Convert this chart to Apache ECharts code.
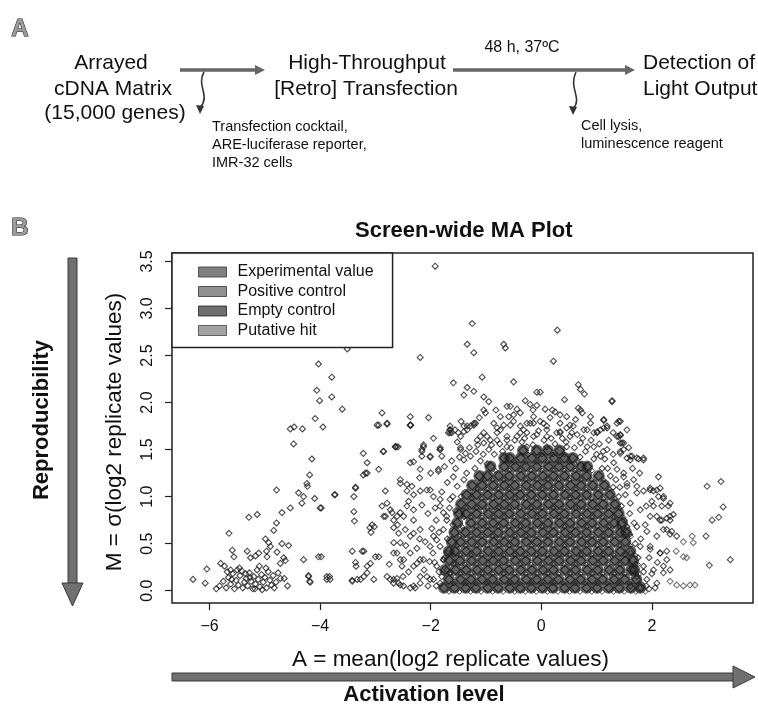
<!DOCTYPE html>
<html><head><meta charset="utf-8">
<script src="https://cdn.jsdelivr.net/npm/echarts@6/dist/echarts.min.js"></script>
<style>html,body{margin:0;padding:0;background:#fff}#c{width:758px;height:708px}</style>
</head><body><div id="c"></div><script>
const seriesNames = ['Experimental value','Positive control','Empty control','Putative hit'];
const xTicks = [-6,-4,-2,0,2];
const yTicks = [0,0.5,1,1.5,2,2.5,3,3.5];

const experimentalSparse = [
[-3.51,2.57],[-4.03,2.41],[-3.79,2.27],[-4.06,2.13],[-3.79,2.06],[-4.01,2.02],[-3.60,1.93],[-4.09,1.83],[-3.95,1.74],[-4.54,1.72],[-4.47,1.74],[-4.32,1.72],[-4.48,1.56],[-3.22,1.46],[-3.15,1.36],[-4.15,1.40],[-3.22,1.23],[-3.15,1.25],[-4.19,1.23],[-4.24,1.14],[-4.23,1.11],[-3.36,1.10],[-4.79,1.07],[-4.39,1.04],[-4.30,1.00],[-4.10,0.98],[-3.74,1.02],[-3.39,1.00],[-4.33,0.93],[-3.98,0.88],[-4.54,0.88],[-4.69,0.83],[-3.39,0.84],[-3.38,0.74],[-5.29,0.78],[-5.14,0.81],[-4.79,0.72],[-4.84,0.64],[-5.65,0.61],[-3.10,0.67],[-4.99,0.55],[-4.93,0.51],[-4.90,0.47],[-4.69,0.50],[-4.57,0.48],[-4.97,0.42],[-4.78,0.41],[-5.59,0.43],[-5.56,0.36],[-5.32,0.42],[-5.26,0.35],[-5.17,0.37],[-5.11,0.40],[-4.96,0.36],[-4.66,0.35],[-4.63,0.32],[-4.72,0.29],[-4.30,0.33],[-3.98,0.36],[-3.24,0.42],[-3.36,0.30],[-3.35,0.26],[-6.05,0.23],[-5.80,0.29],[-5.73,0.26],[-5.62,0.22],[-5.50,0.22],[-6.30,0.12],[-6.08,0.08],[-4.65,0.13],[-4.59,0.05],[-4.21,0.16],[-4.18,0.09],[-3.88,0.12],[-3.83,0.15],[-3.42,0.11],[-3.27,0.12],[-3.15,0.19],
[-2.97,1.76],[-2.79,1.77],[-2.36,1.76],[-2.86,1.48],[-2.62,1.53],[-2.37,1.36],[-2.16,1.50],[-2.16,1.43],[-2.01,1.42],[-1.83,1.50],[-1.86,1.29],[-3.18,1.25],[-2.94,1.29],[-2.55,1.18],[-2.43,1.13],[-2.34,1.11],[-2.82,1.06],[-2.19,1.06],[-2.01,1.07],[-3.36,1.09],[-3.73,1.02],[-4.00,0.88],[-3.06,0.70],[-3.02,0.68],[-3.08,0.62],[-2.88,0.90],[-2.73,0.86],[-2.70,0.83],[-2.82,0.79],[-2.61,0.79],[-2.49,0.79],[-2.31,0.86],[-2.16,0.91],[-2.67,0.67],[-2.58,0.61],[-2.46,0.65],[-2.31,0.61],[-3.42,0.42],[-3.21,0.42],[-3.09,0.29],[-3.15,0.26],[-3.00,0.36],[-2.94,0.36],[-3.21,0.15],[-3.03,0.12],[-2.73,0.12],[-2.61,0.13],[-2.67,0.51],[-2.61,0.40],[-2.55,0.33],[-2.52,0.26],[-2.37,0.40],[-2.25,0.29],[-2.19,0.33],[-2.49,0.05],[-2.37,0.03],[-2.28,0.03],[-2.67,0.08],[-2.58,0.08],[-2.19,0.15],[-2.01,0.12],[-1.95,0.58],[-1.83,0.47],[-1.77,0.33],[-1.71,0.22],[-1.83,0.97],[-1.77,0.83],[-1.71,0.75],[-4.03,0.36],[-4.21,0.15],[-4.19,0.10],[-3.88,0.15],[-3.82,0.12],[-3.42,0.10],[-3.33,0.12],
[-1.92,3.45],[-1.25,2.84],[0.29,2.77],[-1.34,2.62],[-1.22,2.53],[-0.68,2.62],[-0.65,2.58],[-2.19,2.48],[0.22,2.44],[-1.07,2.27],[-0.50,2.22],[-1.59,2.21],[-1.34,2.16],[-1.22,2.12],[-1.40,2.08],[-1.04,2.06],[-0.95,2.01],[-0.08,2.11],[-0.02,2.11],[0.67,2.19],[0.71,2.14],[0.78,2.09],[0.42,2.03],[1.28,2.02],[-0.29,2.02],[-0.20,1.98],[-0.08,1.97],[-0.62,1.96],[-0.44,1.93],[-0.50,1.87],[-0.59,1.85],[0.07,1.93],[0.25,1.90],[0.34,1.87],[0.67,1.94],[0.74,1.89],[0.89,1.85],[1.07,1.71],[1.19,1.75],[1.13,1.82],[1.40,1.80],[1.40,1.64],[1.43,1.57],[-2.88,1.89],[-2.94,1.76],[-2.79,1.78],[-2.37,1.85],[-2.37,1.76],[-2.04,1.84],[-1.19,1.78],[-1.28,1.75],[-1.40,1.69],[-1.50,1.68],[-1.65,1.71],[-1.68,1.68],[-1.04,1.92],[-1.01,1.89],[-2.64,1.53],[-2.13,1.55],[-1.83,1.52],[-1.46,1.52],
[1.28,2.01],[1.13,1.81],[1.43,1.80],[1.43,1.65],[1.46,1.57],[1.49,1.50],[1.55,1.41],[1.64,1.43],[1.76,1.40],[1.85,1.41],[2.12,1.21],[2.15,1.09],[1.97,1.07],[2.03,1.06],[2.12,1.00],[2.21,0.98],[2.30,0.90],[2.03,0.90],[2.18,0.90],[2.39,0.81],[2.27,0.77],[2.33,0.75],[2.09,0.79],[2.18,0.75],[2.27,0.65],[2.36,0.63],[2.45,0.58],[2.06,0.03],[1.97,0.47],[2.15,0.40],[2.27,0.33],[2.21,0.26],[2.33,0.22]
];

const experimentalRing = [
[-2.85,1.48],[-2.64,1.53],[-2.59,1.53],[-2.37,1.76],[-2.13,1.53],[-2.16,1.48],[-2.01,1.43],[-2.31,1.37],[-2.19,1.29],[-1.86,1.27],[-1.83,1.50],[-1.80,1.43],[-1.65,1.75],[-1.62,1.68],[-1.56,1.71],[-1.34,1.75],[-1.22,1.78],[-1.46,1.50],[-1.37,1.46],[-1.28,1.43],[-1.40,1.39],[-1.10,1.64],[-1.04,1.57],[-0.92,1.60],[-0.80,1.68],[-0.74,1.71],[-0.68,1.76],[-0.50,1.80],[-0.38,1.75],[-0.20,1.78],[-0.02,1.80],[-0.62,1.60],[-0.44,1.64],[-0.26,1.68],[-0.08,1.66],[0.10,1.71],[0.28,1.68],[0.46,1.73],[0.65,1.66],[0.83,1.71],[1.01,1.68],[1.19,1.73],[1.37,1.64],[1.55,1.71],[0.71,1.57],[0.95,1.53],[1.19,1.50],[1.43,1.46],[1.61,1.39],[1.31,1.36],[1.07,1.43],[1.49,1.25],[1.67,1.18],[1.55,1.11],[1.73,1.04],
[-2.79,0.93],[-2.85,0.79],[-2.67,0.75],[-2.55,0.83],[-2.43,0.90],[-2.31,0.75],[-2.19,0.65],[-2.37,0.58],[-2.55,0.51],[-2.67,0.40],[-2.49,0.33],[-2.31,0.26],[-2.13,0.33],[-2.01,0.47],[-1.89,0.54],[-1.77,0.65],[-1.71,0.79],[-1.83,0.90],[-1.95,1.00],[-2.07,1.07],[-1.65,0.97],[-1.52,1.11],[-1.40,1.18],[-1.59,1.21],[-2.55,1.14],[-2.43,1.06],[-2.31,1.02],[-2.07,0.15],[-1.95,0.12],[-1.83,0.08],[-2.19,0.08],[-2.31,0.05],[-2.55,0.06],[-2.67,0.12],[-2.79,0.15],[-1.89,0.26],[-1.77,0.33],[-1.71,0.40],[-1.65,0.19],[-1.59,0.29],
[1.43,1.66],[1.49,1.57],[1.43,1.48],[1.61,1.43],[1.73,1.41],[1.85,1.39],[1.37,1.29],[1.49,1.21],[1.55,1.14],[1.73,1.11],[1.85,1.06],[1.97,1.09],[2.09,1.07],[2.21,1.00],[2.33,0.93],[1.61,0.93],[1.79,0.86],[1.97,0.79],[2.15,0.75],[2.33,0.79],[1.73,0.68],[1.91,0.63],[2.09,0.58],[2.21,0.65],[2.33,0.60],[1.79,0.47],[1.97,0.44],[2.15,0.40],[2.27,0.42],[1.85,0.26],[2.03,0.22],[2.21,0.19],[1.73,0.15],[1.91,0.12],[2.09,0.08],[1.61,0.05],[1.79,0.03],
[-1.65,1.71],[-1.40,1.75],[-1.22,1.76],[-1.04,1.68],[-0.80,1.73],[-0.56,1.76],[-0.32,1.71],[-0.14,1.78],[0.10,1.75],[0.34,1.69],[0.52,1.76],[0.77,1.71],[0.95,1.68],[1.13,1.73],[1.37,1.78],
[-1.15,1.55],[-0.95,1.50],[-0.75,1.56],[-0.55,1.52],[-0.35,1.58],[-0.15,1.55],[0.05,1.60],[0.25,1.56],[0.45,1.58],[0.60,1.52],[0.80,1.48],[1.00,1.45],[1.15,1.40],[-1.10,1.38],[-1.20,1.30],[1.10,1.30],[1.25,1.22],[-1.35,1.25],[-0.85,1.45],[0.70,1.42],[1.30,1.10],[1.40,1.00],[-1.45,1.00],[-1.55,0.85],[1.45,0.90],[1.50,0.75],[-1.60,0.70],[1.60,0.60],[-1.70,0.55],[1.70,0.50],[-1.75,0.35],[1.75,0.35],[-1.85,0.20],[1.85,0.20],[-1.90,0.05],[1.90,0.05],
[-0.86,1.78],[-0.74,1.85],[-0.56,1.96],[-0.38,1.89],[-0.26,1.78],[-0.14,1.85],[0.04,1.78],[0.16,1.84],[0.34,1.78],[0.46,1.85],[0.58,1.75],[0.71,1.92],[0.89,1.78],[1.01,1.69],[0.34,1.68],[0.52,1.64],[0.10,1.64],[-0.14,1.64],[-0.38,1.68],[-0.62,1.64],[-0.80,1.60],[-0.98,1.64],[-1.16,1.60],[-1.34,1.71],[-1.46,1.64],[-1.65,1.68],[-0.62,1.53],[-0.26,1.53],[0.10,1.53],[0.46,1.53],[0.83,1.53],
[-2.05,0.05],[-2.12,0.22],[-2.02,0.31],[-1.96,0.40],[-2.10,0.52],[-1.98,0.66],[-1.90,0.75],[-1.85,0.62],[-1.80,0.15],[-1.93,0.30],[-2.25,0.45],[-2.40,0.20],[-2.45,0.48],[-2.20,0.55],[-2.05,0.82],[-1.92,0.88],[-1.80,1.05],[-1.70,1.15],[-1.66,0.88],[-1.60,1.00],[-1.75,1.32],[-1.62,1.38],[-1.55,1.30],[-1.48,1.42],[-1.30,1.52],[-1.18,1.48],[-1.05,1.45],[-0.98,1.35],[-0.90,1.55],[-0.70,1.48],[-0.48,1.60],[-0.30,1.62],[-0.05,1.70],[0.18,1.62],[0.38,1.62],[0.55,1.68],[0.75,1.62],[0.90,1.60],[1.05,1.56],[1.22,1.60],[1.30,1.45],[1.12,1.48],[0.95,1.40],[1.20,1.30],[1.35,1.18],[1.42,1.10],[1.52,1.02],[1.60,0.82],[1.68,0.72],[1.55,0.68],[1.62,0.40],[1.70,0.28],[1.80,0.55],[1.88,0.70],[1.95,0.35],[2.00,0.18],[1.95,0.02],[2.10,0.30],[2.00,0.95],[1.90,0.90],[1.78,1.25],[1.65,1.30],[1.58,1.52],[1.30,1.68],[0.62,1.82],[0.20,1.92],[-0.15,1.92],[-0.82,1.92],[-1.12,1.84],[-1.45,1.80],[-1.52,1.58],[-1.95,1.62],[-2.20,1.20],[-2.00,1.25],[-2.40,0.95],[-2.60,0.70],[-2.75,0.28],[-2.50,0.15]
];

// dense core: rows of marks (y level, x positions)
const coreRowY = [0.03,0.12,0.22,0.32,0.42,0.52,0.62,0.72,0.82,0.92,1.02,1.12,1.22,1.32,1.41,1.49];
const coreRowX = [
[-1.76,-1.57,-1.37,-1.18,-0.97,-0.78,-0.57,-0.38,-0.18,0.02,0.21,0.42,0.61,0.82,1.01,1.22,1.41,1.62,1.79],
[-1.67,-1.46,-1.27,-1.07,-0.88,-0.67,-0.48,-0.27,-0.08,0.12,0.31,0.52,0.71,0.92,1.11,1.32,1.51,1.72],
[-1.74,-1.55,-1.36,-1.16,-0.97,-0.77,-0.58,-0.37,-0.17,0.03,0.22,0.43,0.62,0.83,1.02,1.23,1.42,1.63,1.68],
[-1.66,-1.47,-1.26,-1.06,-0.87,-0.68,-0.47,-0.28,-0.07,0.13,0.32,0.53,0.72,0.93,1.12,1.33,1.52,1.66],
[-1.67,-1.56,-1.36,-1.17,-0.96,-0.77,-0.57,-0.38,-0.18,0.02,0.23,0.42,0.63,0.82,1.03,1.22,1.43,1.61],
[-1.62,-1.46,-1.26,-1.07,-0.86,-0.67,-0.48,-0.27,-0.08,0.12,0.33,0.52,0.73,0.92,1.12,1.33,1.52],
[-1.57,-1.37,-1.17,-0.97,-0.78,-0.57,-0.37,-0.18,0.03,0.22,0.43,0.62,0.82,1.03,1.22,1.43,1.53],
[-1.52,-1.27,-1.07,-0.87,-0.68,-0.47,-0.28,-0.07,0.12,0.33,0.52,0.73,0.92,1.13,1.32,1.46],
[-1.49,-1.36,-1.17,-0.96,-0.77,-0.58,-0.37,-0.17,0.02,0.23,0.42,0.63,0.83,1.02,1.22,1.40],
[-1.45,-1.26,-1.07,-0.86,-0.67,-0.48,-0.27,-0.08,0.13,0.32,0.53,0.72,0.93,1.12,1.33],
[-1.35,-1.17,-0.97,-0.77,-0.57,-0.38,-0.18,0.02,0.22,0.43,0.62,0.82,1.03,1.24],
[-1.25,-1.07,-0.87,-0.67,-0.48,-0.27,-0.07,0.12,0.32,0.53,0.72,0.93,1.14],
[-1.12,-0.97,-0.77,-0.58,-0.37,-0.17,0.03,0.22,0.42,0.63,0.82,1.04],
[-0.92,-0.67,-0.47,-0.28,-0.08,0.13,0.32,0.52,0.72,0.83],
[-0.67,-0.57,-0.37,-0.17,0.02,0.23,0.42,0.57],
[-0.33,-0.08,0.12,0.33]
];

const emptyControl = [
[-5.82,0.05],[-5.75,0.10],[-5.70,0.03],[-5.66,0.14],[-5.62,0.07],[-5.58,0.18],[-5.55,0.02],[-5.52,0.11],[-5.48,0.06],[-5.45,0.16],[-5.42,0.21],[-5.40,0.03],[-5.37,0.09],[-5.34,0.13],[-5.31,0.05],[-5.28,0.19],[-5.25,0.10],[-5.22,0.02],[-5.20,0.15],[-5.17,0.07],[-5.14,0.22],[-5.12,0.12],[-5.09,0.04],[-5.06,0.17],[-5.03,0.09],[-5.00,0.14],[-4.97,0.03],[-4.94,0.20],[-4.91,0.11],[-4.88,0.06],[-4.85,0.16],[-4.80,0.09],[-4.76,0.19],[-4.72,0.13],[-5.60,0.12],[-5.35,0.18],[-5.46,0.24],[-5.10,0.26],[-4.98,0.24],[-5.68,0.20],[-5.27,0.14],[-5.18,0.02],[-5.05,0.01],[-4.83,0.03],[-5.88,0.02]
];
const positiveControl = [[3.00,1.11],[3.25,1.16],[3.29,0.89],[3.09,0.75],[3.21,0.78],[2.98,0.58],[3.04,0.27],[3.42,0.33]];
const putativeHit = [[2.33,0.10],[2.45,0.06],[2.57,0.05],[2.69,0.06],[2.78,0.06],[2.44,0.42],[2.57,0.36],[2.63,0.35],[2.57,0.52],[2.75,0.51],[2.73,0.58]];

const coreData = [];
coreRowY.forEach((y, i) => coreRowX[i].forEach(x => coreData.push([x, y])));

const FONT = '"Liberation Sans", Arial, Helvetica, sans-serif';
const openDiamond = (c) => ({ color: 'rgba(0,0,0,0)', borderColor: c, borderWidth: 1.1 });

function txt(text, x, y, size, opts) {
  opts = opts || {};
  return { type: 'text', x: x, y: y, rotation: opts.rot || 0, z: 10,
    style: { text: text, font: (opts.bold ? 'bold ' : '') + size + 'px ' + FONT,
      fill: opts.fill || '#111', stroke: opts.stroke, lineWidth: opts.lw || 0,
      align: opts.align || 'center', verticalAlign: 'middle' } };
}
const arrowFill = '#707070', arrowStroke = '#3a3a3a';
const graphics = [
  txt('A', 20, 29, 24, {bold: true, fill: '#9a9a9a', stroke: '#222', lw: 1}),
  txt('Arrayed', 111, 63, 21), txt('cDNA Matrix', 113, 89, 21), txt('(15,000 genes)', 115, 113, 21),
  { type: 'line', shape: {x1: 180, y1: 70, x2: 257, y2: 70}, style: {stroke: '#666', lineWidth: 3.5} },
  { type: 'polygon', shape: {points: [[255, 65], [265, 70], [255, 75]]}, style: {fill: '#666'} },
  { type: 'bezierCurve', shape: {x1: 204, y1: 72, cpx1: 196, cpy1: 86, cpx2: 211, cpy2: 95, x2: 200, y2: 108}, style: {stroke: '#333', lineWidth: 1.6, fill: null} },
  { type: 'polygon', shape: {points: [[196, 105], [204, 106], [200, 114]]}, style: {fill: '#333'} },
  txt('High-Throughput', 367, 63, 21), txt('[Retro] Transfection', 366, 89, 21),
  txt('Transfection cocktail,', 212, 127, 14.5, {align: 'left'}),
  txt('ARE-luciferase reporter,', 212, 145, 14.5, {align: 'left'}),
  txt('IMR-32 cells', 212, 163, 14.5, {align: 'left'}),
  { type: 'line', shape: {x1: 453, y1: 70, x2: 627, y2: 70}, style: {stroke: '#666', lineWidth: 3.5} },
  { type: 'polygon', shape: {points: [[625, 65], [635, 70], [625, 75]]}, style: {fill: '#666'} },
  txt('48 h, 37\u00baC', 522, 48, 16),
  { type: 'bezierCurve', shape: {x1: 576, y1: 72, cpx1: 568, cpy1: 88, cpx2: 583, cpy2: 98, x2: 573, y2: 109}, style: {stroke: '#333', lineWidth: 1.6, fill: null} },
  { type: 'polygon', shape: {points: [[569, 106], [577, 107], [573, 115]]}, style: {fill: '#333'} },
  txt('Detection of', 643, 63, 21, {align: 'left'}), txt('Light Output', 643, 89, 21, {align: 'left'}),
  txt('Cell lysis,', 581, 126, 14.5, {align: 'left'}),
  txt('luminescence reagent', 581, 144, 14.5, {align: 'left'}),
  txt('B', 20, 228, 24, {bold: true, fill: '#9a9a9a', stroke: '#222', lw: 1}),
  txt('Reproducibility', 42, 420, 22, {bold: true, rot: Math.PI / 2}),
  { type: 'rect', shape: {x: 68, y: 258, width: 9, height: 326}, style: {fill: arrowFill, stroke: arrowStroke, lineWidth: 1} },
  { type: 'polygon', shape: {points: [[62, 583], [83, 583], [72.5, 606]]}, style: {fill: arrowFill, stroke: arrowStroke, lineWidth: 1} },
  { type: 'rect', shape: {x: 172, y: 673, width: 562, height: 8}, style: {fill: arrowFill, stroke: arrowStroke, lineWidth: 1} },
  { type: 'polygon', shape: {points: [[733, 666], [733, 688], [755, 677]]}, style: {fill: arrowFill, stroke: arrowStroke, lineWidth: 1} },
  txt('Activation level', 424, 695, 22, {bold: true})
];

const chart = echarts.init(document.getElementById('c'), null, {renderer: 'canvas'});
chart.setOption({
  animation: false,
  backgroundColor: '#fff',
  textStyle: {fontFamily: FONT},
  title: {text: 'Screen-wide MA Plot', left: 355, top: 220, padding: 0,
    textStyle: {fontSize: 22, fontWeight: 'bold', color: '#111', fontFamily: FONT}},
  grid: {left: 172, top: 253, width: 581, height: 350, show: true, borderColor: '#222', borderWidth: 1.5, backgroundColor: 'transparent'},
  legend: {
    orient: 'vertical', left: 172, top: 253, padding: [11, 19, 9, 26],
    itemWidth: 28, itemHeight: 10, itemGap: 3.5, selectedMode: false,
    borderColor: '#222', borderWidth: 1.5, backgroundColor: '#fff', z: 5,
    textStyle: {fontSize: 16, color: '#111', fontFamily: FONT, lineHeight: 16, padding: [0, 0, 0, 6]},
    data: [
      {name: seriesNames[0], icon: 'rect', itemStyle: {color: '#626262', borderColor: '#333', borderWidth: 1}},
      {name: seriesNames[1], icon: 'rect', itemStyle: {color: '#747474', borderColor: '#333', borderWidth: 1}},
      {name: seriesNames[2], icon: 'rect', itemStyle: {color: '#4a4a4a', borderColor: '#222', borderWidth: 1}},
      {name: seriesNames[3], icon: 'rect', itemStyle: {color: '#8c8c8c', borderColor: '#444', borderWidth: 1}}
    ]
  },
  xAxis: {
    type: 'value', min: -6.68, max: 3.83,
    name: 'A = mean(log2 replicate values)', nameLocation: 'middle', nameGap: 45,
    nameTextStyle: {fontSize: 22.5, color: '#111', fontFamily: FONT, padding: [0, 24, 0, 0]},
    axisLine: {show: false, onZero: false}, splitLine: {show: false},
    axisTick: {show: true, inside: false, length: 7, customValues: xTicks, lineStyle: {color: '#222', width: 1.2}},
    axisLabel: {customValues: xTicks, fontSize: 16, color: '#111', margin: 16, fontFamily: FONT,
      formatter: v => (v < 0 ? '\u2212' + Math.abs(v) : String(v))}
  },
  yAxis: {
    type: 'value', min: -0.131, max: 3.59,
    name: 'M = \u03c3(log2 replicate values)', nameLocation: 'middle', nameGap: 46, nameRotate: 90,
    nameTextStyle: {fontSize: 22.5, color: '#111', fontFamily: FONT, padding: [0, 8, 0, 0]},
    axisLine: {show: false, onZero: false}, splitLine: {show: false},
    axisTick: {show: true, inside: false, length: 7, customValues: yTicks, lineStyle: {color: '#222', width: 1.2}},
    axisLabel: {customValues: yTicks, fontSize: 16, color: '#111', margin: 16, rotate: 90, fontFamily: FONT,
      formatter: v => Number(v).toFixed(1)}
  },
  graphic: graphics,
  series: [
    {name: seriesNames[0], type: 'scatter', data: coreData, symbol: 'circle', symbolSize: 12,
      itemStyle: {color: '#3c3c3c'}, silent: true, z: 1},
    {name: seriesNames[0], type: 'scatter', data: coreData, symbol: 'diamond', symbolSize: 9,
      itemStyle: {color: 'rgba(0,0,0,0)', borderColor: '#151515', borderWidth: 1.1}, silent: true, z: 1},
    {name: seriesNames[0], type: 'scatter', data: coreData, symbol: 'diamond', symbolSize: 5,
      symbolOffset: [5, 4], itemStyle: {color: 'rgba(0,0,0,0)', borderColor: '#1a1a1a', borderWidth: 1}, silent: true, z: 1},
    {name: seriesNames[0], type: 'scatter', data: experimentalRing, symbol: 'diamond', symbolSize: 6,
      itemStyle: openDiamond('#262626'), silent: true, z: 2},
    {name: seriesNames[0], type: 'scatter', data: experimentalSparse, symbol: 'diamond', symbolSize: 6,
      itemStyle: openDiamond('#1e1e1e'), silent: true, z: 2},
    {name: seriesNames[1], type: 'scatter', data: positiveControl, symbol: 'diamond', symbolSize: 6,
      itemStyle: openDiamond('#2a2a2a'), silent: true, z: 2},
    {name: seriesNames[2], type: 'scatter', data: emptyControl, symbol: 'diamond', symbolSize: 6,
      itemStyle: openDiamond('#1e1e1e'), silent: true, z: 2},
    {name: seriesNames[3], type: 'scatter', data: putativeHit, symbol: 'diamond', symbolSize: 6,
      itemStyle: openDiamond('#555'), silent: true, z: 2}
  ]
});
</script></body></html>
